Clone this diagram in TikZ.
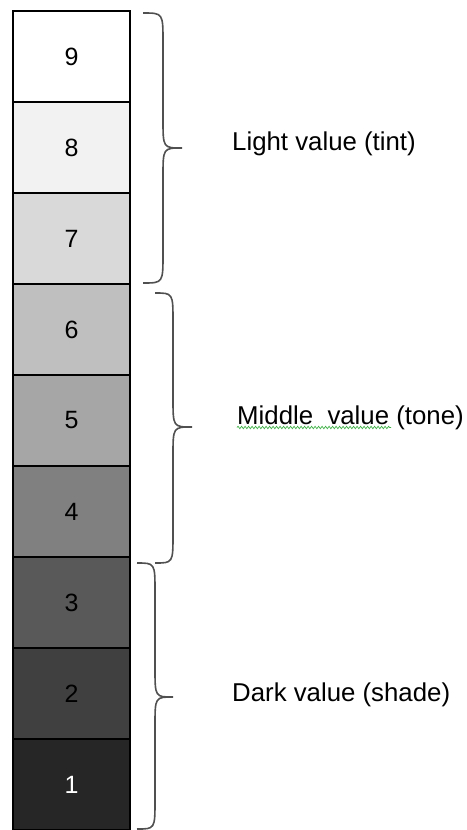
\documentclass[tikz,border=0pt]{standalone}
\usepackage{fontspec}
\setmainfont{Liberation Sans}
\usetikzlibrary{decorations.pathmorphing}
\definecolor{g9}{HTML}{FFFFFF}
\definecolor{g8}{HTML}{F2F2F2}
\definecolor{g7}{HTML}{D9D9D9}
\definecolor{g6}{HTML}{BFBFBF}
\definecolor{g5}{HTML}{A6A6A6}
\definecolor{g4}{HTML}{808080}
\definecolor{g3}{HTML}{595959}
\definecolor{g2}{HTML}{404040}
\definecolor{g1}{HTML}{262626}
\definecolor{bracegray}{HTML}{505050}
\definecolor{spellgreen}{HTML}{3CB043}
\begin{document}
\begin{tikzpicture}[x=1pt,y=-1pt,
  cell/.style={draw=black, line width=1.4pt, minimum width=117pt, minimum height=91pt,
    inner sep=0pt, outer sep=0pt, font=\fontsize{25}{29}\selectfont},
  bracepath/.style={draw=bracegray, line width=1.6pt},
  lbl/.style={anchor=base west, inner sep=0pt, font=\fontsize{25.8}{30}\selectfont}]
\useasboundingbox (0,0) rectangle (466,830);
\node[cell, fill=g9] (c9) at (71.5,56.5) {9};
\node[cell, fill=g8] (c8) at (71.5,147.5) {8};
\node[cell, fill=g7] (c7) at (71.5,238.5) {7};
\node[cell, fill=g6] (c6) at (71.5,329.5) {6};
\node[cell, fill=g5] (c5) at (71.5,420.5) {5};
\node[cell, fill=g4] (c4) at (71.5,511.5) {4};
\node[cell, fill=g3] (c3) at (71.5,602.5) {3};
\node[cell, fill=g2] (c2) at (71.5,693.5) {2};
\node[cell, fill=g1, text=white] (c1) at (71.5,784.5) {1};
% braces
\draw[bracepath] (143,13) .. controls (163,13) .. (163,42) -- (163,119)
  .. controls (163,148) .. (182,148) .. controls (163,148) .. (163,177)
  -- (163,254) .. controls (163,283) .. (143,283);
\draw[bracepath] (155,293) .. controls (173,293) .. (173,322) -- (173,398)
  .. controls (173,427) .. (192,427) .. controls (173,427) .. (173,456)
  -- (173,534) .. controls (173,563) .. (155,563);
\draw[bracepath] (137,563) .. controls (155,563) .. (155,592) -- (155,668)
  .. controls (155,697) .. (173,697) .. controls (155,697) .. (155,726)
  -- (155,800) .. controls (155,829) .. (137,829);
% labels
\node[lbl] (light) at (232,150) {Light value (tint)};
\node[lbl] (middle) at (237,424) {Middle\ \ value (tone)};
\node[lbl] (dark) at (232,701) {Dark value (shade)};
\draw[spellgreen, line width=0.7pt, decorate, decoration={snake, amplitude=1.2pt, segment length=3.5pt}]
  (237,427.5) -- (391,427.5);
\end{tikzpicture}
\end{document}
